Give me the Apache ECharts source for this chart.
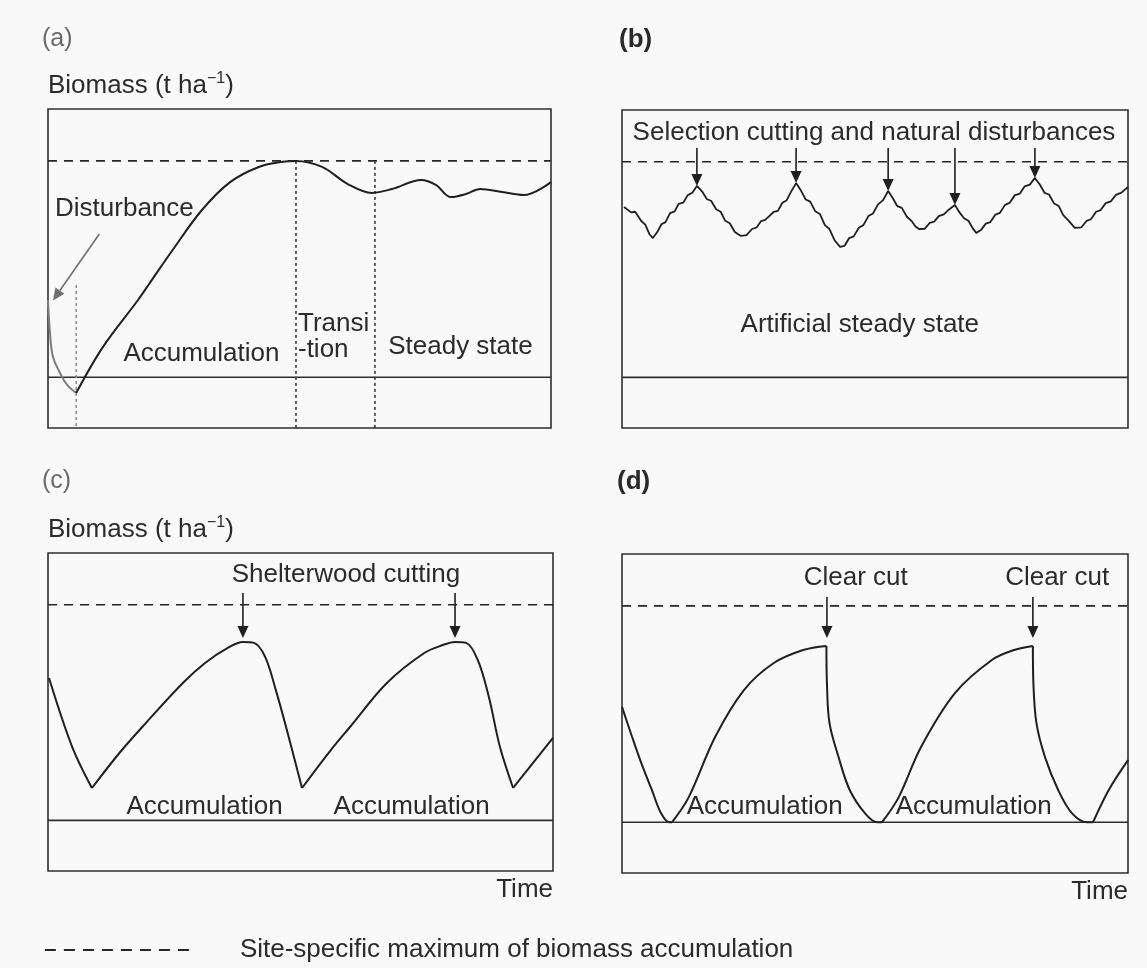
<!DOCTYPE html>
<html>
<head>
<meta charset="utf-8">
<script src="https://cdn.jsdelivr.net/npm/echarts@6/dist/echarts.min.js"></script>
<style>
  html, body { margin: 0; padding: 0; background: #f9f9f9; }
  #chart { width: 1147px; height: 968px; }
</style>
</head>
<body>
<div id="chart"></div>
<script>
// Biomass dynamics under four regimes. Time runs 0-100, biomass is relative:
// 0 = baseline, 100 = site-specific maximum.
const MAX_NAME = 'Site-specific maximum of biomass accumulation';
const SITE_MAX = 100;
const BASELINE = 0;
const Y_MIN = -23.5, Y_MAX = 124;

// (a) natural succession after a disturbance
const aDisturbance = [[0, 35.7], [0.4, 20.4], [1.0, 9.3], [2.4, 1.9], [3.8, -3.6], [5.6, -7.3]];
const aSuccession = [[5.6, -7.3], [10.9, 13.9], [17.9, 35.7], [20.1, 43.1], [25.2, 60.2], [30.6, 77.3],
  [36.2, 90.2], [41.9, 97.2], [46.3, 99.5], [49.3, 100], [54.5, 97.2], [59.6, 89.3], [64.4, 85.2],
  [68.4, 87.0], [74.2, 91.2], [77.1, 88.9], [80.1, 83.3], [83.1, 84.7], [85.9, 87.0], [90.3, 85.6],
  [94.6, 84.2], [100, 90.2]];
const aGuides = [[5.6, 42.6], [49.3, 100], [65.0, 100]];          // [time, top of guide]
const aArrows = [[10.2, 66.2, 1.0, 35.5]];                        // [t0, b0, t1, b1]
const aLabels = [['Disturbance', 1.4, 77.8, 'left'], ['Accumulation', 30.5, 10.7, 'center'],
  ['Transi', 49.7, 24.6, 'left'], ['-tion', 49.7, 12.6, 'left'], ['Steady state', 82.0, 13.9, 'center']];

// (b) selection cutting and natural disturbances
const bBiomass = [[0.4, 79.0], [1.8, 76.5], [2.6, 76.8], [3.8, 72.5], [4.6, 70.8], [5.4, 66.5], [6.1, 64.6],
  [7.0, 67.5], [7.8, 71.0], [8.6, 72.0], [9.5, 76.2], [10.4, 77.0], [11.2, 80.5], [12.1, 81.0], [13.0, 84.5],
  [13.9, 85.6], [14.8, 88.8], [15.9, 86.0], [16.8, 82.6], [17.6, 81.9], [18.6, 78.0], [19.5, 76.8], [20.4, 72.6],
  [21.3, 71.5], [22.3, 67.4], [23.5, 65.6], [24.6, 66.0], [25.7, 68.8], [26.6, 69.5], [27.5, 72.5], [28.3, 73.0],
  [29.1, 74.8], [30.0, 76.8], [30.8, 77.2], [31.7, 81.0], [32.5, 82.0], [33.4, 86.0], [34.4, 90.1], [35.4, 86.5],
  [36.3, 82.5], [37.2, 81.5], [38.2, 77.0], [39.1, 75.8], [40.1, 70.6], [41.0, 68.8], [42.0, 63.6], [43.1, 60.5],
  [44.0, 61.0], [44.9, 64.6], [45.8, 65.4], [46.8, 69.4], [47.7, 70.6], [48.7, 74.8], [49.6, 76.0], [50.6, 80.2],
  [51.6, 82.2], [52.6, 86.4], [53.5, 83.2], [54.4, 79.4], [55.3, 78.6], [56.3, 74.5], [57.3, 72.3], [58.0, 70.0],
  [58.7, 68.8], [59.8, 68.9], [60.8, 71.6], [61.7, 72.2], [62.6, 74.8], [63.6, 75.6], [64.7, 78.0], [65.8, 79.9],
  [66.7, 76.5], [67.6, 73.8], [68.5, 72.5], [69.3, 69.2], [70.0, 67.0], [71.0, 68.5], [71.9, 71.3], [72.8, 72.0],
  [73.8, 75.5], [74.7, 76.3], [75.7, 80.0], [76.6, 80.9], [77.6, 84.4], [78.6, 85.2], [79.6, 88.6], [80.6, 89.4],
  [81.6, 92.5], [82.6, 89.3], [83.5, 85.6], [84.4, 84.8], [85.4, 80.6], [86.3, 79.5], [87.2, 75.2], [88.2, 72.8],
  [89.5, 69.3], [90.8, 69.6], [91.8, 72.5], [92.7, 73.4], [93.7, 76.8], [94.6, 77.6], [95.6, 80.8], [96.6, 81.6],
  [97.6, 84.6], [98.7, 85.7], [100, 88.3]];
const bArrows = [[14.8, 106.4, 14.8, 88.8], [34.4, 106.4, 34.4, 90.1], [52.6, 106.4, 52.6, 86.4],
  [65.8, 106.4, 65.8, 79.9], [81.6, 106.4, 81.6, 92.5]];
const bLabels = [['Selection cutting and natural disturbances', 49.8, 113.3, 'center'],
  ['Artificial steady state', 47.0, 24.3, 'center']];

// (c) shelterwood cutting; each list is one stretch between sharp turns
const cBiomass = [
  [[0.2, 66.0], [4.8, 34.0], [8.7, 15.0]],
  [[8.7, 15.0], [14.3, 31.7], [19.4, 45.2], [26.7, 63.7], [31.1, 73.0], [35.6, 80.0], [38.6, 82.7], [40.8, 82.3],
   [43.0, 75.8], [45.1, 60.5], [47.3, 41.9], [50.3, 15.0]],
  [[50.3, 15.0], [56.0, 32.6], [59.8, 43.3], [67.1, 63.7], [74.5, 77.6], [78.2, 81.3], [80.6, 82.7], [82.8, 82.3],
   [85.1, 74.4], [87.3, 57.2], [89.5, 34.0], [92.1, 15.0]],
  [[92.1, 15.0], [100, 38.2]]
];
const cArrows = [[38.6, 105.4, 38.6, 84.6], [80.6, 105.4, 80.6, 84.6]];
const cLabels = [['Shelterwood cutting', 59.0, 113.8, 'center'], ['Accumulation', 31.0, 6.2, 'center'],
  ['Accumulation', 72.0, 6.2, 'center']];

// (d) clear cutting
const dBiomass = [
  [[0, 53.3], [2.0, 39.4], [3.8, 27.4], [5.9, 14.9], [7.7, 4.2], [9.3, 0], [9.9, 0]],
  [[9.9, 0], [13.2, 11.6], [18.4, 39.4], [24.1, 61.1], [30.0, 73.6], [35.8, 79.6], [40.4, 81.5]],
  [[40.4, 81.5], [40.5, 64.4], [41.0, 45.9], [42.8, 30.1], [45.0, 14.9], [48.0, 4.2], [50.4, 0], [51.4, 0]],
  [[51.4, 0], [54.7, 11.6], [59.1, 34.8], [65.8, 59.7], [73.1, 75.0], [77.5, 79.6], [81.2, 81.5]],
  [[81.2, 81.5], [81.3, 64.4], [81.9, 45.9], [83.6, 30.1], [86.2, 14.9], [88.9, 4.2], [91.9, 0], [93.1, 0]],
  [[93.1, 0], [96.2, 14.9], [100, 28.7]]
];
const dArrows = [[40.5, 104.1, 40.5, 85.2], [81.2, 104.1, 81.2, 85.2]];
const dLabels = [['Clear cut', 46.2, 112.9, 'center'], ['Clear cut', 86.0, 112.9, 'center'],
  ['Accumulation', 28.2, 7.0, 'center'], ['Accumulation', 69.5, 7.0, 'center']];

const panelTitles = ['(a)', '(b)', '(c)', '(d)'];
const X_NAME = 'Time';

// ---- drawing ----
const FONT = '"Liberation Sans", Arial, Helvetica, sans-serif';
const INK = '#1f1f1f';
const TEXT = '#2b2b2b';
const chart = echarts.init(document.getElementById('chart'), null, { renderer: 'canvas' });

const grids = [
  { left: 48, top: 109, width: 503, height: 319 },
  { left: 622, top: 110, width: 506, height: 318 },
  { left: 48, top: 553, width: 505, height: 318 },
  { left: 622, top: 554, width: 506, height: 319 }
].map(g => Object.assign({ show: true, borderColor: '#2e2e2e', borderWidth: 1.6, backgroundColor: 'transparent' }, g));

const hiddenParts = {
  axisLine: { show: false, onZero: false }, axisTick: { show: false },
  axisLabel: { show: false }, splitLine: { show: false }
};

const xAxes = grids.map((g, i) => Object.assign({
  type: 'value', gridIndex: i, min: 0, max: 100, position: 'bottom',
  name: i >= 2 ? X_NAME : '', nameLocation: 'end', nameGap: 0,
  nameTextStyle: { fontSize: 26, fontFamily: FONT, color: TEXT, align: 'right', verticalAlign: 'top', padding: [6, 0, 0, 0] }
}, hiddenParts));

// axis title with a superscript exponent
const yNameRich = '{n|Biomass (t ha}{s|−1}{n|)}';
const yAxes = grids.map((g, i) => Object.assign({
  type: 'value', gridIndex: i, min: Y_MIN, max: Y_MAX, position: 'left',
  name: (i === 0 || i === 2) ? yNameRich : '', nameLocation: 'end', nameGap: 8,
  nameTextStyle: {
    align: 'left', verticalAlign: 'bottom', color: TEXT,
    rich: {
      n: { fontSize: 26, fontFamily: FONT, color: TEXT, lineHeight: 30 },
      s: { fontSize: 16, fontFamily: FONT, color: TEXT, lineHeight: 16, verticalAlign: 'top' }
    }
  }
}, hiddenParts));

function line(gi, data, style, extra) {
  return Object.assign({
    type: 'line', xAxisIndex: gi, yAxisIndex: gi, data: data, symbol: 'none', silent: true,
    itemStyle: { color: INK },
    lineStyle: Object.assign({ color: INK, width: 2 }, style), z: 3
  }, extra || {});
}

function arrows(gi, list, color) {
  return {
    type: 'custom', xAxisIndex: gi, yAxisIndex: gi, silent: true, clip: false, z: 5,
    data: list.map(a => a.slice()),
    encode: { x: [0, 2], y: [1, 3] },
    renderItem: function (params, api) {
      const a = list[params.dataIndex];
      const p0 = api.coord([a[0], a[1]]);
      const p1 = api.coord([a[2], a[3]]);
      const dx = p1[0] - p0[0], dy = p1[1] - p0[1];
      const len = Math.sqrt(dx * dx + dy * dy) || 1;
      const ux = dx / len, uy = dy / len;
      const head = 12, half = 5.5;
      const bx = p1[0] - ux * head, by = p1[1] - uy * head;
      return {
        type: 'group',
        children: [
          { type: 'line', shape: { x1: p0[0], y1: p0[1], x2: bx, y2: by }, style: { stroke: color, lineWidth: 1.6 } },
          { type: 'polygon', shape: { points: [[bx - uy * half, by + ux * half], [bx + uy * half, by - ux * half], [p1[0], p1[1]]] },
            style: { fill: color } }
        ]
      };
    }
  };
}

function labels(gi, list) {
  return {
    type: 'custom', xAxisIndex: gi, yAxisIndex: gi, silent: true, clip: false, z: 6,
    data: list.map(l => [l[1], l[2]]),
    encode: { x: 0, y: 1 },
    renderItem: function (params, api) {
      const l = list[params.dataIndex];
      const p = api.coord([l[1], l[2]]);
      return {
        type: 'text', x: p[0], y: p[1],
        style: { text: l[0], fontSize: 26, fontFamily: FONT, fill: TEXT, align: l[3], verticalAlign: 'middle' }
      };
    }
  };
}

const series = [];
grids.forEach((g, gi) => {
  series.push(line(gi, [[0, SITE_MAX], [100, SITE_MAX]], { type: [9, 7], width: 1.6, color: '#262626' }, { name: MAX_NAME, z: 2 }));
  series.push(line(gi, [[0, BASELINE], [100, BASELINE]], { width: 1.6, color: '#2e2e2e' }, { z: 2 }));
});

// (a)
series.push(line(0, aDisturbance, { color: '#7d7d7d', width: 2 }, { smooth: 0.4 }));
series.push(line(0, aSuccession, {}, { smooth: 0.35 }));
aGuides.forEach((gd, k) => {
  series.push(line(0, [[gd[0], gd[1]], [gd[0], Y_MIN]],
    { type: [3, 3], width: 1.5, color: k === 0 ? '#8a8a8a' : '#2e2e2e' }, { z: 2 }));
});
series.push(arrows(0, aArrows, '#6e6e6e'));
series.push(labels(0, aLabels));

// (b)
series.push(line(1, bBiomass, { width: 1.8 }));
series.push(arrows(1, bArrows, INK));
series.push(labels(1, bLabels));

// (c)
cBiomass.forEach(seg => series.push(line(2, seg, {}, { smooth: 0.35 })));
series.push(arrows(2, cArrows, INK));
series.push(labels(2, cLabels));

// (d)
dBiomass.forEach(seg => series.push(line(3, seg, {}, { smooth: 0.35 })));
series.push(arrows(3, dArrows, INK));
series.push(labels(3, dLabels));

const titlePos = [[42, 27], [619, 27], [42, 469], [617, 469]];
const titles = panelTitles.map((t, i) => ({
  text: t, left: titlePos[i][0], top: titlePos[i][1], padding: 0,
  textStyle: {
    fontFamily: FONT, fontSize: (i % 2) ? 26 : 25,
    fontWeight: (i % 2) ? 'bold' : 'normal', color: (i % 2) ? '#2a2a2a' : '#6a6a6a'
  }
}));

chart.setOption({
  animation: false,
  backgroundColor: '#f9f9f9',
  title: titles,
  grid: grids,
  xAxis: xAxes,
  yAxis: yAxes,
  legend: {
    data: [MAX_NAME], left: 44, top: 937, itemWidth: 152, itemHeight: 14, padding: 0,
    selectedMode: false,
    itemStyle: { opacity: 0 },
    lineStyle: { color: '#262626', width: 1.8, type: [11, 8] },
    formatter: '{t|{name}}',
    textStyle: { rich: { t: { fontSize: 26, fontFamily: FONT, color: TEXT, padding: [0, 0, 0, 38] } } }
  },
  series: series
});
</script>
</body>
</html>
